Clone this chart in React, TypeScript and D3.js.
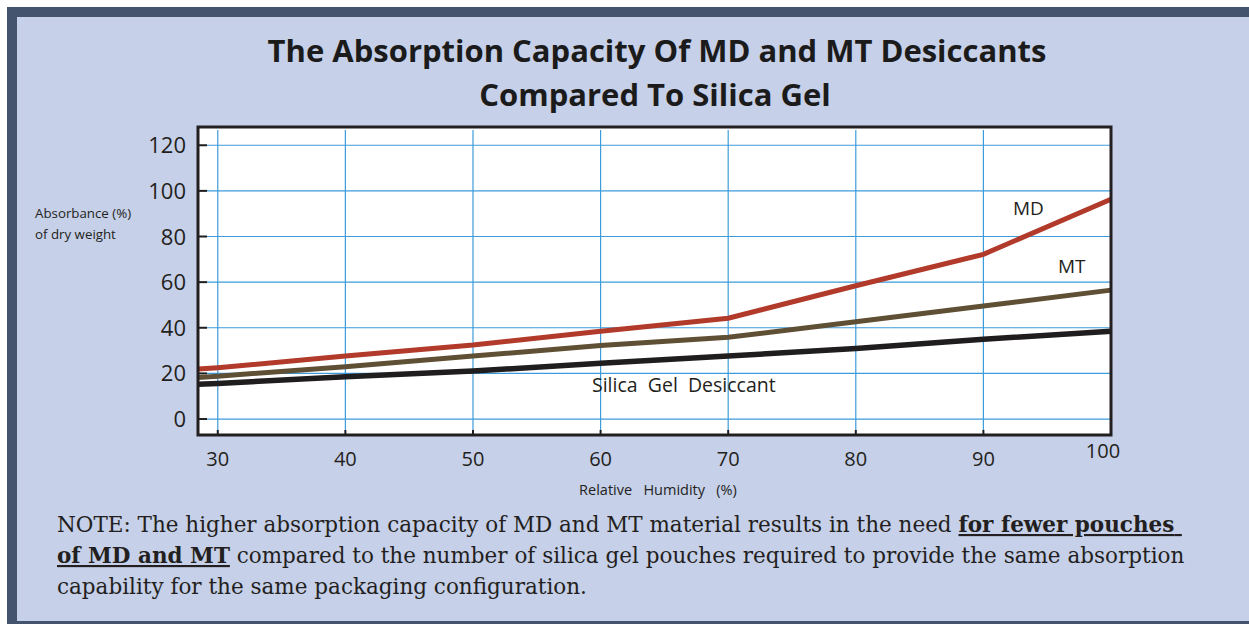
import * as d3 from "d3";

const width = 1249;
const height = 624;
const plot = { left: 198, right: 1111, top: 127, bottom: 435 };

// Relative humidity (%) sampled along the chart
const humidity = [28.45, 30, 40, 50, 60, 70, 80, 90, 100];
// Absorbance (% of dry weight)
const mdValues = [21.9, 22.5, 27.6, 32.4, 38.5, 44.2, 58.4, 72.2, 96.3];
const mtValues = [18.2, 18.8, 22.9, 27.6, 32.2, 35.8, 42.6, 49.5, 56.5];
const silicaValues = [15.2, 15.6, 18.5, 21.0, 24.4, 27.6, 30.9, 35.0, 38.5];

const xTicks = [30, 40, 50, 60, 70, 80, 90, 100];
const yTicks = [0, 20, 40, 60, 80, 100, 120];

const series = [
  { name: "Silica Gel Desiccant", values: silicaValues, color: "#1f1d1d", width: 5.5 },
  { name: "MT", values: mtValues, color: "#5f4f34", width: 5 },
  { name: "MD", values: mdValues, color: "#b23a2b", width: 5 },
];

const sans = "'Open Sans', 'Noto Sans', sans-serif";
const serif = "'DejaVu Serif', serif";

const App = () => {
  const x = d3.scaleLinear().domain([28.45, 100]).range([plot.left, plot.right]);
  const y = d3.scaleLinear().domain([-7, 128]).range([plot.bottom, plot.top]);

  const line = d3
    .line<number>()
    .x((_, i) => x(humidity[i]))
    .y((d) => y(d));

  return (
    <div style={{ position: "absolute", left: 0, top: 0 }}>
      <svg width={width} height={height} viewBox={`0 0 ${width} ${height}`}>
        <rect x={0} y={0} width={width} height={height} fill="#ffffff" />
        <rect x={7} y={7} width={width} height={height} fill="#44546f" />
        <rect x={17} y={17} width={width} height={604} fill="#c6d0e8" />

        {/* title */}
        <text x={657} y={62} textAnchor="middle" fontFamily={sans} fontWeight="bold" fontSize={31} fill="#1b1b1b">
          The Absorption Capacity Of MD and MT Desiccants
        </text>
        <text x={655} y={106} textAnchor="middle" fontFamily={sans} fontWeight="bold" fontSize={31} fill="#1b1b1b">
          Compared To Silica Gel
        </text>

        {/* plot area */}
        <rect x={plot.left} y={plot.top} width={plot.right - plot.left} height={plot.bottom - plot.top} fill="#ffffff" />

        {/* grid */}
        {yTicks.map((t) => (
          <g key={"gy" + t}>
            <line x1={plot.left + 9} x2={plot.right} y1={y(t)} y2={y(t)} stroke="#3d9bdb" strokeWidth={1.2} />
            <line x1={plot.left} x2={plot.left + 9} y1={y(t)} y2={y(t)} stroke="#1f1d1d" strokeWidth={2} />
            <text x={186} y={y(t) + 8} textAnchor="end" fontFamily={sans} fontSize={22} fill="#231f20">
              {t}
            </text>
          </g>
        ))}
        {xTicks.map((t) => (
          <g key={"gx" + t}>
            {t < 100 && (
              <>
                <line x1={x(t)} x2={x(t)} y1={plot.top + 3} y2={plot.bottom - 4} stroke="#3d9bdb" strokeWidth={1.2} />
                <line x1={x(t)} x2={x(t)} y1={plot.bottom - 5} y2={plot.bottom} stroke="#1f1d1d" strokeWidth={2} />
              </>
            )}
            <text
              x={t === 100 ? x(t) - 8 : x(t)}
              y={t === 100 ? 458 : 466}
              textAnchor="middle"
              fontFamily={sans}
              fontSize={20}
              fill="#231f20"
            >
              {t}
            </text>
          </g>
        ))}

        {/* lines */}
        {series.map((s) => (
          <path key={s.name} d={line(s.values) ?? ""} fill="none" stroke={s.color} strokeWidth={s.width} />
        ))}

        <rect
          x={plot.left}
          y={plot.top}
          width={plot.right - plot.left}
          height={plot.bottom - plot.top}
          fill="none"
          stroke="#231f20"
          strokeWidth={3}
        />

        {/* labels */}
        <text x={35} y={218} fontFamily={sans} fontSize={13.3} fill="#231f20">
          Absorbance (%)
        </text>
        <text x={35} y={239} fontFamily={sans} fontSize={13.3} fill="#231f20">
          of dry weight
        </text>
        <text x={658} y={495} textAnchor="middle" fontFamily={sans} fontSize={14.5} fill="#231f20" style={{ whiteSpace: "pre" }}>
          {"Relative   Humidity   (%)"}
        </text>
        <text x={1013} y={215} fontFamily={sans} fontSize={19} fill="#231f20">
          MD
        </text>
        <text x={1058} y={273} fontFamily={sans} fontSize={19} fill="#231f20">
          MT
        </text>
        <text x={592} y={392} fontFamily={sans} fontSize={19.5} fill="#231f20" style={{ whiteSpace: "pre" }}>
          {"Silica  Gel  Desiccant"}
        </text>

        {/* note */}
        <g fontFamily={serif} fontSize={21.5} fill="#231f20">
          <text x={57} y={532} style={{ whiteSpace: "pre" }}>
            NOTE: The higher absorption capacity of MD and MT material results in the need{" "}
            <tspan fontWeight="bold" textDecoration="underline">
              for fewer pouches{" "}
            </tspan>
          </text>
          <text x={57} y={563}>
            <tspan fontWeight="bold" textDecoration="underline">
              of MD and MT
            </tspan>{" "}
            compared to the number of silica gel pouches required to provide the same absorption
          </text>
          <text x={57} y={594}>capability for the same packaging configuration.</text>
        </g>
      </svg>
    </div>
  );
};

export default App;
